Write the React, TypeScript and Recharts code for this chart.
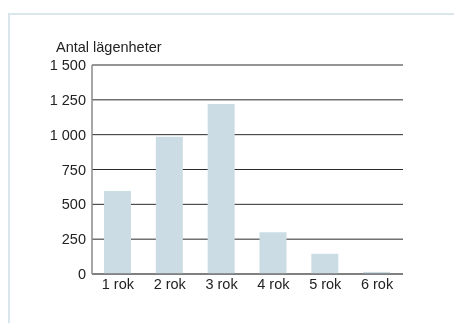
import { Bar, BarChart, CartesianGrid, XAxis, YAxis } from "recharts";

const rooms = ["1 rok", "2 rok", "3 rok", "4 rok", "5 rok", "6 rok"];
const apartments = [595, 985, 1220, 300, 145, 15];
const yTicks = [0, 250, 500, 750, 1000, 1250, 1500];

const data = rooms.map((label, i) => ({ label, value: apartments[i] }));

const font = "'Liberation Sans', Arial, Helvetica, sans-serif";

// space as thousands separator: 1500 -> "1 500"
const fmt = (v: number) => String(v).replace(/\B(?=(\d{3})+(?!\d))/g, " ");

export default function App() {
  return (
    <div
      style={{
        position: "fixed",
        left: 8,
        top: 13,
        width: 446,
        height: 310,
        borderTop: "2px solid #d9e6ec",
        borderLeft: "2px solid #d9e6ec",
      }}
    >
      <div
        style={{
          position: "absolute",
          left: 46,
          top: 24,
          fontFamily: font,
          fontSize: 14.5,
          color: "#222",
          whiteSpace: "nowrap",
        }}
      >
        Antal lägenheter
      </div>
      <BarChart
        width={444}
        height={308}
        data={data}
        margin={{ top: 50, right: 51, bottom: 19, left: 0 }}
        barSize={27}
      >
        <CartesianGrid vertical={false} stroke="#2a2a2a" />
        <XAxis
          dataKey="label"
          height={30}
          tickLine={false}
          tickSize={3}
          tickMargin={2}
          axisLine={{ stroke: "#7a7a7a", strokeWidth: 1.5 }}
          tick={{ fill: "#222", fontSize: 14.5, fontFamily: font }}
          interval={0}
        />
        <YAxis
          width={82}
          domain={[0, 1500]}
          ticks={yTicks}
          tickFormatter={fmt}
          tickLine={false}
          tickSize={4}
          tickMargin={2}
          axisLine={{ stroke: "#8a8a8a", strokeWidth: 1.5 }}
          tick={{ fill: "#222", fontSize: 14.5, fontFamily: font }}
        />
        <Bar dataKey="value" fill="#cbdce4" isAnimationActive={false} />
      </BarChart>
    </div>
  );
}
